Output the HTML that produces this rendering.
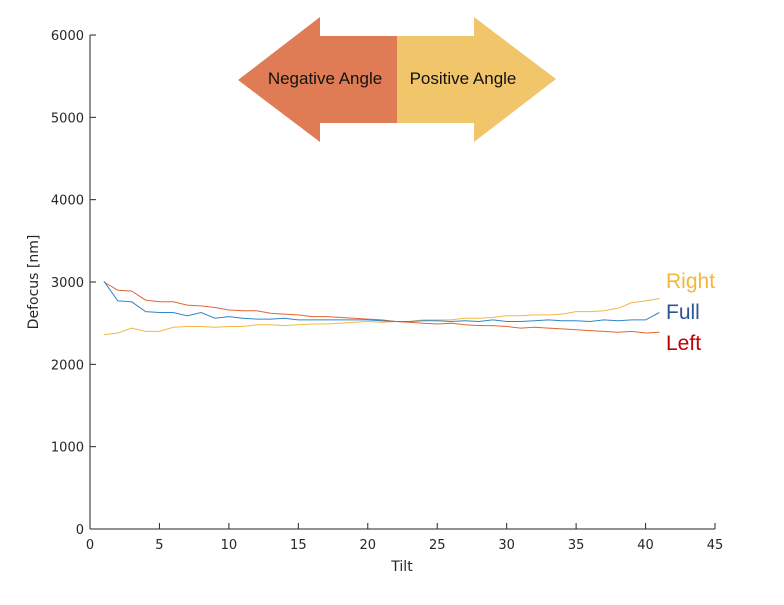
<!DOCTYPE html>
<html><head><meta charset="utf-8"><style>
body{margin:0;background:#fff;width:784px;height:600px;overflow:hidden}
svg text{font-family:"DejaVu Sans","Liberation Sans",sans-serif}
</style></head><body>
<svg id="chart" width="784" height="600" xmlns="http://www.w3.org/2000/svg">
<g>
<polygon points="238,80 320,17 320,36 398,36 398,123 320,123 320,142" fill="#e07c55"/>
<polygon points="397,36 474,36 474,17 556,79 474,142 474,123 397,123" fill="#f1c66a"/>
<text x="325" y="84" text-anchor="middle" font-size="17" fill="#111" style="font-family:'Liberation Sans',sans-serif">Negative Angle</text>
<text x="463" y="84" text-anchor="middle" font-size="17" fill="#111" style="font-family:'Liberation Sans',sans-serif">Positive Angle</text>
</g>
<g id="axes"></g>
<g id="series"></g>
<text x="666" y="288" font-size="21" fill="#f5b73a" style="font-family:'Liberation Sans',sans-serif">Right</text>
<text x="666" y="319" font-size="21" fill="#2f5597" style="font-family:'Liberation Sans',sans-serif">Full</text>
<text x="666" y="350" font-size="21" fill="#c00000" style="font-family:'Liberation Sans',sans-serif">Left</text>
<text x="402" y="571" text-anchor="middle" font-size="14" fill="#262626">Tilt</text>
<text transform="translate(38,282) rotate(-90)" text-anchor="middle" font-size="14" fill="#262626">Defocus [nm]</text>
</svg>
<script>
const xTicks=[0,5,10,15,20,25,30,35,40,45];
const yTicks=[0,1000,2000,3000,4000,5000,6000];
const tilts=[1,2,3,4,5,6,7,8,9,10,11,12,13,14,15,16,17,18,19,20,21,22,23,24,25,26,27,28,29,30,31,32,33,34,35,36,37,38,39,40,41];
const leftVals=[3000,2900,2890,2780,2760,2760,2720,2710,2690,2660,2650,2650,2620,2610,2600,2580,2580,2570,2560,2550,2540,2520,2510,2500,2490,2500,2480,2470,2470,2460,2440,2450,2440,2430,2420,2410,2400,2390,2400,2380,2390];
const fullVals=[3010,2770,2760,2640,2630,2630,2590,2630,2560,2580,2560,2550,2550,2560,2540,2540,2540,2540,2540,2540,2530,2520,2520,2530,2530,2520,2530,2520,2540,2520,2520,2530,2540,2530,2530,2520,2540,2530,2540,2540,2630];
const rightVals=[2360,2380,2440,2400,2400,2450,2460,2460,2450,2460,2460,2480,2480,2470,2480,2490,2490,2500,2510,2520,2510,2520,2520,2540,2540,2540,2560,2560,2570,2590,2590,2600,2600,2610,2640,2640,2650,2680,2750,2770,2800];
const NS="http://www.w3.org/2000/svg";
const x0=90,x1=715,y0=529,y1=35;
const sx=v=>x0+(v-0)/(45-0)*(x1-x0);
const sy=v=>y0-(v-0)/(6000-0)*(y0-y1);
const ax=document.getElementById('axes');
function mk(tag,attrs,parent){const e=document.createElementNS(NS,tag);for(const k in attrs)e.setAttribute(k,attrs[k]);parent.appendChild(e);return e;}
const xl=mk('line',{x1:x0,y1:y0,x2:x1,y2:y0,stroke:'#262626','stroke-width':1},ax);


const yl=mk('line',{x1:x0,y1:y0,x2:x0,y2:y1,stroke:'#262626','stroke-width':1},ax);


xTicks.forEach(t=>{
 const tk=mk('line',{x1:sx(t),y1:y0,x2:sx(t),y2:y0-6,stroke:'#262626'},ax);
 
 
 const tx=mk('text',{x:sx(t),y:y0+20,'text-anchor':'middle','font-size':13,fill:'#262626'},ax);
 
 
 tx.textContent=t;
});
yTicks.forEach(t=>{
 const tk=mk('line',{x1:x0,y1:sy(t),x2:x0+6,y2:sy(t),stroke:'#262626'},ax);
 
 
 const tx=mk('text',{x:x0-6,y:sy(t)+5,'text-anchor':'end','font-size':13,fill:'#262626'},ax);
 
 
 tx.textContent=t;
});
const sg=document.getElementById('series');
function line(vals,color,name){
 const d=vals.map((v,i)=>(i?'L':'M')+sx(tilts[i]).toFixed(1)+','+sy(v).toFixed(1)).join(' ');
 const p=mk('path',{d:d,fill:'none',stroke:color,'stroke-width':1},sg);
 
 
}
line(rightVals,'#f2b843','line-right');
line(leftVals,'#e0663a','line-left');
line(fullVals,'#2f86c8','line-full');
</script>
</body></html>
